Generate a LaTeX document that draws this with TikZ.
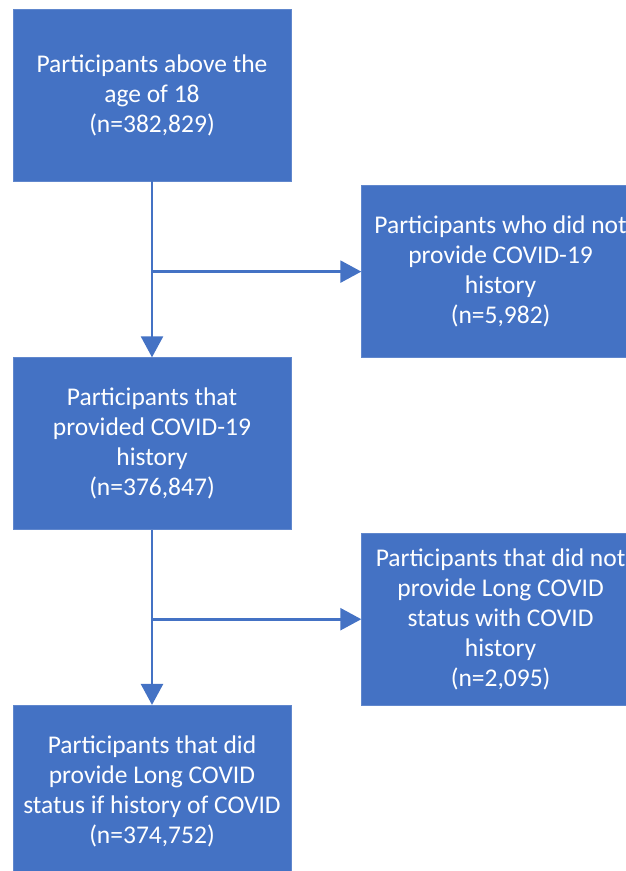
\documentclass[tikz,border=0pt]{standalone}
\usepackage{fontspec}
\setmainfont{Carlito}
\usepackage{tikz}
\usetikzlibrary{positioning,arrows.meta}
\definecolor{boxblue}{HTML}{4472C4}
\tikzset{
  flowbox/.style={rectangle, fill=boxblue, draw=boxblue!85!white, line width=0.6pt,
                  minimum width=278pt, minimum height=172pt, inner sep=2pt,
                  text=white, align=center, font=\fontsize{25.5}{30}\selectfont},
  fwd/.style={-{Triangle[length=21pt,width=22pt]}, line width=2.6pt, draw=boxblue},
}

\begin{document}
\begin{tikzpicture}[x=1pt, y=-1pt, node distance=176pt]
  \useasboundingbox (0,0) rectangle (626,871);
  \clip (0,0) rectangle (626,871);

  \node[flowbox] (adults) at (152,95) {Participants above the\\age of 18\\(n=382,829)};
  \node[flowbox] (nohist) [below right=4pt and 70pt of adults] {Participants who did not\\provide COVID-19\\history\\(n=5,982)};
  \node[flowbox] (hist) [below=of adults] {Participants that\\provided COVID-19\\history\\(n=376,847)};
  \node[flowbox] (nolong) [below right=3pt and 70pt of hist] {Participants that did not\\provide Long COVID\\status with COVID\\history\\(n=2,095)};
  \node[flowbox] (final) [below=175pt of hist] {Participants that did\\provide Long COVID\\status if history of COVID\\(n=374,752)};

  \coordinate (split1) at (adults.south |- nohist.west);
  \coordinate (split2) at (hist.south |- nolong.west);

  \draw[fwd] (adults) -- (hist);
  \draw[fwd] (split1) -- (nohist.west);
  \draw[fwd] (hist) -- (final);
  \draw[fwd] (split2) -- (nolong.west);

\end{tikzpicture}
\end{document}
